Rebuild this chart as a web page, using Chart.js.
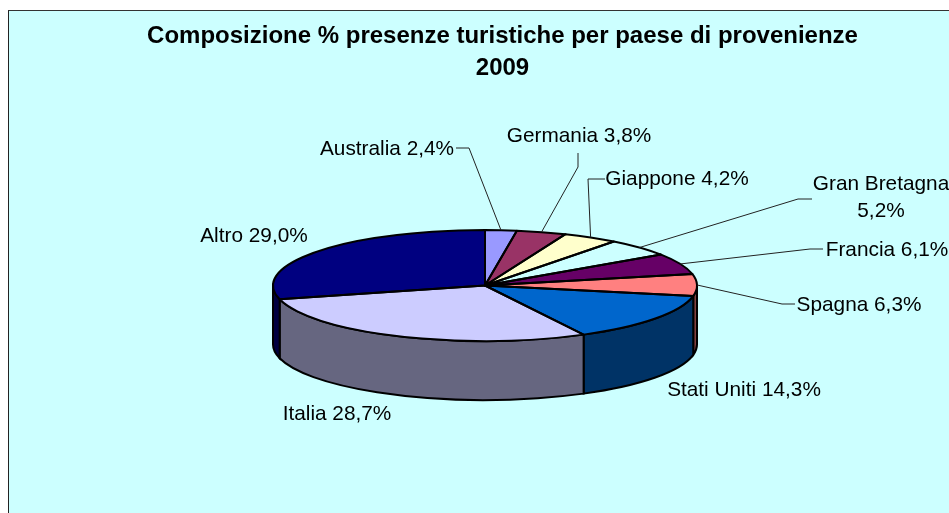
<!DOCTYPE html>
<html>
<head>
<meta charset="utf-8">
<title>Composizione % presenze turistiche</title>
<style>
  html, body { margin: 0; padding: 0; background: #fff; overflow: hidden; }
  #frame {
    position: absolute; left: 8px; top: 10px; width: 960px; height: 520px;
    background: #CCFFFF; border-left: 1.5px solid #222; border-top: 1.5px solid #333;
  }
  #Chart_pie { position: absolute; left: 0; top: 0; }
</style>
<script src="https://cdn.jsdelivr.net/npm/chart.js@4/dist/chart.umd.js"></script>
</head>
<body>
<div id="frame"></div>
<canvas id="Chart_pie" width="949" height="513"></canvas>
<script>
  // DATA
  var categories = ['Australia', 'Germania', 'Giappone', 'Gran Bretagna', 'Francia', 'Spagna', 'Stati Uniti', 'Italia', 'Altro'];
  var shares = [2.4, 3.8, 4.2, 5.2, 6.1, 6.3, 14.3, 28.7, 29.0];
  var titleLines = ['Composizione % presenze turistiche per paese di provenienze', '2009'];

  // STYLES
  var topColors = ['#9999FF', '#993366', '#FFFFCC', '#CCFFFF', '#660066', '#FF8080', '#0066CC', '#CCCCFF', '#000080'];
  var wallColors = ['#4D4D80', '#4D1A33', '#808066', '#668080', '#330033', '#804040', '#003366', '#666680', '#000040'];
  var fontFamily = '"Liberation Sans", Arial, sans-serif';

  // label centres, and the bend of each leader line (null = no leader)
  var labelCentres = [[387, 149], [579, 136], [677, 179], [881, 198], [887, 250], [859, 305], [744, 390], [337, 414], [254, 236]];
  var leaderPaths = [
    [[456, 148], [469, 148]],
    [[578, 153], [578, 167]],
    [[605, 179], [588, 179]],
    [[812, 199], [798, 199]],
    [[823, 249], [810, 249]],
    [[795, 304], [782, 304]],
    null, null, null
  ];
  var wrappedLabels = ['Gran Bretagna'];

  // PIE GEOMETRY ON THE PAGE
  var pieX = 485, pieY = 285.5, pieRx = 212, pieRy = 55.5, pieDepth = 59;

  function labelText(i) {
    return shares[i].toFixed(1).replace('.', ',') + '%';
  }

  var pie3d = {
    id: 'pie3d',
    // WALL UNDER THE FRONT OF THE PIE
    beforeDatasetsDraw: function (chart) {
      var ctx = chart.ctx;
      chart.getDatasetMeta(0).data.forEach(function (arc, i) {
        var a0 = Math.max(arc.startAngle, 0);
        var a1 = Math.min(arc.endAngle, Math.PI);
        if (a0 >= a1) return;
        ctx.save();
        ctx.beginPath();
        ctx.ellipse(pieX, pieY, pieRx, pieRy, 0, a0, a1);
        ctx.ellipse(pieX, pieY + pieDepth, pieRx, pieRy, 0, a1, a0, true);
        ctx.closePath();
        ctx.fillStyle = wallColors[i];
        ctx.fill();
        ctx.strokeStyle = '#000';
        ctx.lineWidth = 2;
        ctx.stroke();
        ctx.restore();
      });
    },
    // SQUASH THE LIBRARY'S PIE INTO AN ELLIPSE
    beforeDatasetDraw: function (chart) {
      var ctx = chart.ctx;
      var first = chart.getDatasetMeta(0).data[0];
      ctx.save();
      ctx.translate(pieX, pieY);
      ctx.scale(pieRx / first.outerRadius, pieRy / first.outerRadius);
      ctx.translate(-first.x, -first.y);
    },
    afterDatasetDraw: function (chart) {
      chart.ctx.restore();
    },
    afterDatasetsDraw: function (chart) {
      var ctx = chart.ctx;
      var arcs = chart.getDatasetMeta(0).data;
      // SLICE OUTLINES
      ctx.save();
      ctx.strokeStyle = '#000';
      ctx.lineWidth = 2;
      ctx.lineJoin = 'round';
      arcs.forEach(function (arc) {
        ctx.beginPath();
        ctx.moveTo(pieX, pieY);
        ctx.ellipse(pieX, pieY, pieRx, pieRy, 0, arc.startAngle, arc.endAngle);
        ctx.closePath();
        ctx.stroke();
      });
      ctx.restore();

      // LEADERS AND LABELS
      ctx.save();
      ctx.font = '20.8px ' + fontFamily;
      ctx.fillStyle = '#000';
      ctx.textAlign = 'center';
      ctx.textBaseline = 'middle';
      ctx.strokeStyle = '#222';
      ctx.lineWidth = 1;
      arcs.forEach(function (arc, i) {
        var path = leaderPaths[i];
        if (path) {
          var mid = (arc.startAngle + arc.endAngle) / 2;
          ctx.beginPath();
          ctx.moveTo(path[0][0], path[0][1]);
          ctx.lineTo(path[1][0], path[1][1]);
          ctx.lineTo(pieX + pieRx * Math.cos(mid), pieY + pieRy * Math.sin(mid));
          ctx.stroke();
        }
        var c = labelCentres[i];
        if (wrappedLabels.indexOf(categories[i]) >= 0) {
          ctx.fillText(categories[i], c[0], c[1] - 13.5);
          ctx.fillText(labelText(i), c[0], c[1] + 13.5);
        } else {
          ctx.fillText(categories[i] + ' ' + labelText(i), c[0], c[1]);
        }
      });
      ctx.restore();
    }
  };

  var chart = new Chart(document.getElementById('Chart_pie').getContext('2d'), {
    type: 'pie',
    data: {
      labels: categories,
      datasets: [{
        data: shares,
        backgroundColor: topColors,
        borderWidth: 0,
        clip: false
      }]
    },
    options: {
      responsive: false,
      animation: false,
      radius: 212,
      layout: { padding: { left: 56 } },
      plugins: {
        legend: { display: false },
        tooltip: { enabled: false },
        title: {
          display: true,
          text: titleLines,
          color: '#000',
          font: { family: fontFamily, size: 24, weight: 'bold', lineHeight: 32 / 24 },
          padding: { top: 20, bottom: 0 }
        }
      }
    },
    plugins: [pie3d]
  });
</script>
</body>
</html>
